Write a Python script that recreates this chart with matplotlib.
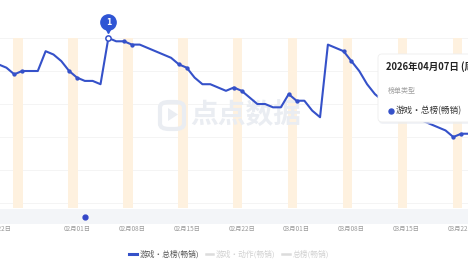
import numpy as np
import matplotlib.pyplot as plt
from matplotlib.patches import FancyBboxPatch, Polygon
from matplotlib.lines import Line2D
from matplotlib.transforms import offset_copy

plt.rcParams['font.family'] = ['Noto Sans CJK SC', 'DejaVu Sans']

# ==================== 数据 ====================
# 每日排名（01月22日 起，共 61 天）
rank = [13, 14, 16, 15, 15, 15, 9, 10, 12, 15,
        17, 18, 18, 19, 5, 6, 6, 7, 7, 8,
        9, 10, 11, 13, 14, 17, 19, 19, 20, 21,
        20, 21, 23, 25, 25, 26, 26, 22, 24, 24,
        27, 29, 7, 8, 9, 12, 15, 19, 22, 24,
        26, 27, 28, 29, 30, 31, 32, 33, 35, 34, 34]

tick_days = [0, 10, 17, 24, 31, 38, 45, 52, 59]
tick_labels = ['01月22日', '02月01日', '02月08日', '02月15日', '02月22日',
               '03月01日', '03月08日', '03月15日', '03月22日']
weekend_days = [2, 9, 16, 23, 30, 37, 44, 51, 58]   # 周六
event_day = 11
pin_day = 14
grid_ranks = [5, 15, 25, 35, 45, 55]

legend_labels = ['游戏·总榜(畅销)', '游戏·动作(畅销)', '总榜(畅销)']
tooltip_title = '2026年04月07日 (周二)'
tooltip_sub = '榜单类型'

BLUE = '#3551c9'
W, H = 468, 264


def fx(px):
    return px / W


def fy(py):
    return 1 - py / H


fig = plt.figure(figsize=(W / 100, H / 100), dpi=100)
fig.patch.set_facecolor('white')

# ---- 主图 ----
ax = fig.add_axes([0, fy(208), 1, 170 / H])
ax.patch.set_visible(False)
ax.set_xlim(0.18, 59.87)
ax.set_ylim(56.5, 5)
ax.axis('off')

for g in grid_ranks:
    ax.axhline(g, color='#f2f2f2', lw=0.6, zorder=0)

for d in weekend_days:
    ax.axvspan(d - 0.1, d + 1.1, color='#fef1df', lw=0, zorder=0.5)

# 水印
ax.text(fx(246), fy(116), '点点数据', transform=fig.transFigure, fontsize=20,
        fontweight='bold', color='#eaedf2', ha='center', va='center', zorder=1)
logo = FancyBboxPatch((fx(160), fy(129)), fx(24), 27 / H, transform=fig.transFigure,
                      boxstyle='round,pad=0,rounding_size=0.02', fc='none',
                      ec='#eaedf2', lw=3, zorder=1)
ax.add_artist(logo)
ax.add_artist(Polygon([[fx(168), fy(108)], [fx(168), fy(121)], [fx(178), fy(114.5)]],
                      closed=True, transform=fig.transFigure, fc='#eaedf2', ec='none', zorder=1))

xs = np.arange(len(rank))
ax.plot(xs, rank, color=BLUE, lw=1.5, zorder=3, clip_on=False)
ax.plot(weekend_days + [d + 1 for d in weekend_days],
        [rank[d] for d in weekend_days] + [rank[d + 1] for d in weekend_days],
        'o', ms=2.1, color=BLUE, zorder=4, clip_on=False)

# 标记点 1
ax.plot([pin_day], [rank[pin_day]], 'o', ms=3.8, color=BLUE, mfc='white', mew=1.1,
        zorder=5, clip_on=False)
t_tail = offset_copy(ax.transData, fig=fig, x=0, y=9, units='dots')
t_pin = offset_copy(ax.transData, fig=fig, x=0, y=16, units='dots')
ax.plot([pin_day], [rank[pin_day]], 'v', ms=6, color='#2f55d4', transform=t_tail,
        zorder=6, clip_on=False)
ax.plot([pin_day], [rank[pin_day]], 'o', ms=11, color='#2f55d4', transform=t_pin,
        zorder=6, clip_on=False)
ax.text(pin_day, rank[pin_day], '1', transform=t_pin, color='white', fontsize=5.5,
        fontweight='bold', ha='center', va='center', zorder=7, family='DejaVu Sans')

# ---- 事件条 ----
ax2 = fig.add_axes([0, fy(224), 1, 15 / H])
ax2.set_facecolor('#f3f5f8')
ax2.set_xlim(ax.get_xlim())
ax2.set_ylim(0, 1)
for s in ax2.spines.values():
    s.set_visible(False)
ax2.set_xticks([])
ax2.set_yticks([])
ax2.plot([event_day], [0.45], 'o', ms=3.5, color='#3346c8')

# 日期标签
for d, lab in zip(tick_days, tick_labels):
    ax2.text(d, -0.33, lab, fontsize=4.6, color='#9a9a9a', ha='center', va='center',
             clip_on=False)

# ---- 图例 ----
handles = [Line2D([], [], color=BLUE, lw=2.2),
           Line2D([], [], color='#dcdcdc', lw=1.8),
           Line2D([], [], color='#dcdcdc', lw=1.8)]
leg = fig.legend(handles, legend_labels, loc='center', bbox_to_anchor=(fx(229), fy(254)),
                 ncol=3, frameon=False, fontsize=5.6, handlelength=1.0,
                 handletextpad=0.35, columnspacing=0.8, borderpad=0)
for i, t in enumerate(leg.get_texts()):
    t.set_color('#555555' if i == 0 else '#d0d0d0')

# ---- 提示框 ----
ov = fig.add_axes([0, 0, 1, 1], zorder=10)
ov.patch.set_visible(False)
ov.set_xlim(0, W)
ov.set_ylim(H, 0)
ov.axis('off')
ov.add_patch(FancyBboxPatch((379, 56), 100, 68, boxstyle='round,pad=0,rounding_size=4',
                            fc='#e9ecf2', ec='none', alpha=0.6))
ov.add_patch(FancyBboxPatch((378, 54), 100, 68, boxstyle='round,pad=0,rounding_size=4',
                            fc='white', ec='#eeeeee', lw=0.6))
ov.text(386, 67, tooltip_title, fontsize=6.8, fontweight='bold', color='#222222',
        ha='left', va='center')
ov.text(388, 91, tooltip_sub, fontsize=5, color='#a0a0a0', ha='left', va='center')
ov.plot([391], [111], 'o', ms=3.6, color=BLUE)
ov.text(396, 111, legend_labels[0], fontsize=6.2, color='#333333', ha='left', va='center')

fig.savefig('out.png', dpi=100)
